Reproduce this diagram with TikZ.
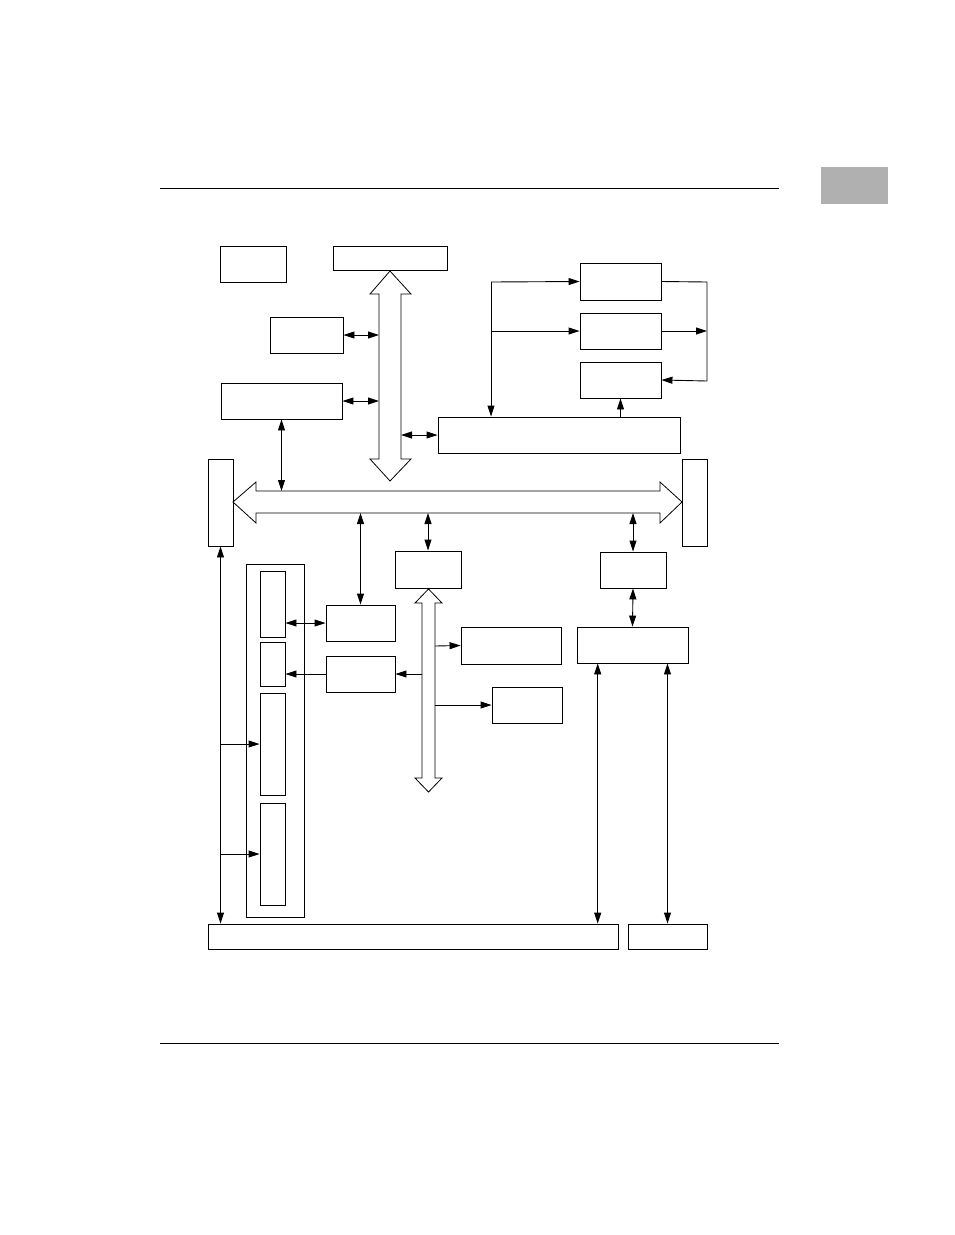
\documentclass[tikz,border=0pt]{standalone}
\usetikzlibrary{arrows.meta,fit}
\definecolor{tabgray}{RGB}{176,176,176}
\tikzset{
  blk/.style={draw, line width=0.9pt, inner sep=0pt, fit={#1}},
  con/.style={line width=0.9pt},
  tip/.style={con, -{Triangle[length=11pt,width=7pt]}},
  dtip/.style={con, {Triangle[length=11pt,width=7pt]}-{Triangle[length=11pt,width=7pt]}},
  hollow/.style={draw, line width=0.8pt, fill=white},
  rule/.style={line width=1pt}
}
\begin{document}
\begin{tikzpicture}[x=1pt,y=-1pt]
\useasboundingbox (0,0) rectangle (954,1235);
% page furniture
\coordinate (r1a) at (160,188); \coordinate (r1b) at (779,188);
\coordinate (r2a) at (160,1043); \coordinate (r2b) at (779,1043);
\draw[rule] (r1a) -- (r1b);
\draw[rule] (r2a) -- (r2b);
\fill[tabgray] (821,167) rectangle (888,204);

% hollow buses
\draw[hollow] (390,271) -- (411,294) -- (401,294) -- (401,459) -- (411,459) -- (390,481)
  -- (370,459) -- (379,459) -- (379,294) -- (370,294) -- cycle;
\draw[hollow] (233,502) -- (256,482) -- (256,491) -- (660,491) -- (660,482) -- (682,502)
  -- (660,523) -- (660,513) -- (256,513) -- (256,523) -- cycle;
\draw[hollow] (428.5,589) -- (442,603) -- (435,603) -- (435,778) -- (442,778) -- (428.5,792)
  -- (415,778) -- (422,778) -- (422,603) -- (415,603) -- cycle;

% blocks
\node[blk={(220,246) (286,282)}] (A) {};
\node[blk={(333,246) (447,270)}] (B) {};
\node[blk={(270,317) (343,353)}] (C) {};
\node[blk={(221,383) (342,419)}] (D) {};
\node[blk={(438,417) (680,453)}] (E) {};
\node[blk={(580,263) (661,300)}] (G1) {};
\node[blk={(580,313) (661,349)}] (G2) {};
\node[blk={(580,362) (661,398)}] (G3) {};
\node[blk={(208,459) (233,546)}] (F) {};
\node[blk={(682,459) (707,546)}] (H) {};
\node[blk={(395,551) (461,588)}] (I) {};
\node[blk={(600,552) (666,588)}] (J) {};
\node[blk={(246,564) (304,917)}] (Ctr) {};
\node[blk={(260,571) (285,637)}] (L1) {};
\node[blk={(260,642) (285,686)}] (L2) {};
\node[blk={(260,693) (285,795)}] (L3) {};
\node[blk={(260,803) (285,905)}] (L4) {};
\node[blk={(326,605) (395,641)}] (K) {};
\node[blk={(326,656) (395,692)}] (M) {};
\node[blk={(461,627) (561,664)}] (N) {};
\node[blk={(492,687) (562,723)}] (O) {};
\node[blk={(577,627) (688,663)}] (R) {};
\node[blk={(208,924) (618,949)}] (P) {};
\node[blk={(628,924) (707,949)}] (Q) {};

% bus attachment coordinates
\coordinate (vbl1) at (379,335);
\coordinate (vbl2) at (379,401);
\coordinate (vbr) at (401,435);
\coordinate (hbt) at (0,491);
\coordinate (hbb) at (0,513);
\coordinate (fx1) at (491,282);
\coordinate (fx2) at (491,331);
\coordinate (rx1) at (707,282);
\coordinate (rx2) at (707,331);
\coordinate (rx3) at (707,381);
\coordinate (sl) at (422,674);
\coordinate (sr1) at (435,646);
\coordinate (sr2) at (435,705);
\coordinate (t3) at (220.5,744);
\coordinate (t4) at (220.5,854);
\coordinate (px) at (597.7,0);

% connectors
\draw[dtip] (C.east) -- (vbl1);
\draw[dtip] (D.east) -- (vbl2);
\draw[dtip] (vbr) -- (E.west);
\draw[dtip] (D.south) -- (D.south |- hbt);
\draw[tip] (fx1) -- (G1.west);
\draw[tip] (fx2) -- (G2.west);
\draw[tip] (fx1) -- (fx1 |- E.north);
\draw[con] (G1.east) -- (rx1) -- (rx3);
\draw[tip] (rx3) -- (G3.east);
\draw[tip] (G2.east) -- (rx2);
\draw[tip] (G3.south |- E.north) -- (G3.south);
\draw[dtip] (K.north |- hbb) -- (K.north);
\draw[dtip] (I.north |- hbb) -- (I.north);
\draw[dtip] (J.north |- hbb) -- (J.north);
\draw[dtip] (J.south) -- (R.north);
\draw[dtip] (R.south -| px) -- (P.north -| px);
\draw[dtip] (R.south -| Q.north) -- (Q.north);
\draw[dtip] (F.south) -- (P.north -| F.south);
\draw[tip] (t3) -- (L3.west);
\draw[tip] (t4) -- (L4.west);
\draw[dtip] (L1.east |- K.west) -- (K.west);
\draw[tip] (M.west) -- (L2.east |- M.west);
\draw[tip] (sl) -- (M.east);
\draw[tip] (sr1) -- (N.west);
\draw[tip] (sr2) -- (O.west);
\end{tikzpicture}
\end{document}
